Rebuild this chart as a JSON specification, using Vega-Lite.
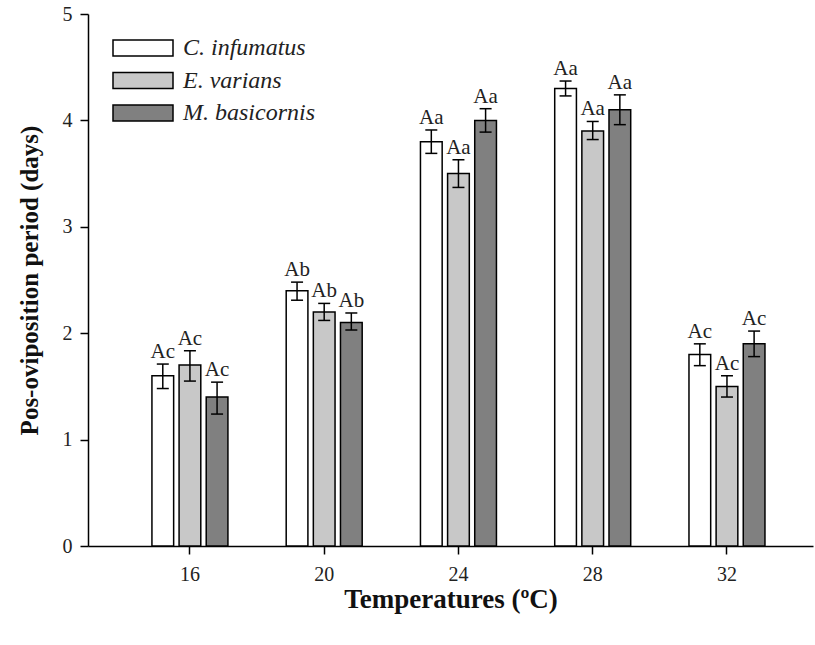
{
  "$schema": "https://vega.github.io/schema/vega-lite/v6.json",
  "width": 725,
  "height": 532,
  "autosize": {"type": "none"},
  "padding": {"left": 88, "top": 14, "right": 2, "bottom": 99},
  "background": "white",
  "config": {
    "font": "Liberation Serif",
    "view": {"stroke": null},
    "axis": {
      "domainColor": "black",
      "domainWidth": 1.5,
      "tickColor": "black",
      "tickWidth": 1.5,
      "tickSize": 8,
      "labelFont": "Liberation Serif",
      "labelFontSize": 20,
      "labelColor": "#222222",
      "titleFont": "Liberation Serif",
      "titleFontSize": 25,
      "titleFontWeight": "bold",
      "titleColor": "#111111",
      "grid": false
    }
  },
  "data": {
    "values": [
      {"temp": "16", "species": "C. infumatus", "mean": 1.6, "lo": 1.48, "hi": 1.71, "label": "Ac"},
      {"temp": "16", "species": "E. varians", "mean": 1.7, "lo": 1.55, "hi": 1.835, "label": "Ac"},
      {"temp": "16", "species": "M. basicornis", "mean": 1.4, "lo": 1.24, "hi": 1.54, "label": "Ac"},
      {"temp": "20", "species": "C. infumatus", "mean": 2.4, "lo": 2.31, "hi": 2.48, "label": "Ab"},
      {"temp": "20", "species": "E. varians", "mean": 2.2, "lo": 2.12, "hi": 2.28, "label": "Ab"},
      {"temp": "20", "species": "M. basicornis", "mean": 2.1, "lo": 2.03, "hi": 2.19, "label": "Ab"},
      {"temp": "24", "species": "C. infumatus", "mean": 3.8, "lo": 3.69, "hi": 3.91, "label": "Aa"},
      {"temp": "24", "species": "E. varians", "mean": 3.5, "lo": 3.37, "hi": 3.63, "label": "Aa"},
      {"temp": "24", "species": "M. basicornis", "mean": 4.0, "lo": 3.89, "hi": 4.11, "label": "Aa"},
      {"temp": "28", "species": "C. infumatus", "mean": 4.3, "lo": 4.23, "hi": 4.37, "label": "Aa"},
      {"temp": "28", "species": "E. varians", "mean": 3.9, "lo": 3.82, "hi": 3.99, "label": "Aa"},
      {"temp": "28", "species": "M. basicornis", "mean": 4.1, "lo": 3.96, "hi": 4.24, "label": "Aa"},
      {"temp": "32", "species": "C. infumatus", "mean": 1.8, "lo": 1.695, "hi": 1.9, "label": "Ac"},
      {"temp": "32", "species": "E. varians", "mean": 1.5, "lo": 1.4, "hi": 1.6, "label": "Ac"},
      {"temp": "32", "species": "M. basicornis", "mean": 1.9, "lo": 1.78, "hi": 2.02, "label": "Ac"}
    ]
  },
  "encoding": {
    "x": {
      "field": "temp",
      "type": "ordinal",
      "sort": ["16", "20", "24", "28", "32"],
      "scale": {"paddingInner": 0.434, "paddingOuter": 0.417, "align": 0.571},
      "axis": {"labelAngle": 0, "labelPadding": 10, "titlePadding": 2, "titleFontSize": 27},
      "title": "Temperatures (ºC)"
    },
    "xOffset": {
      "field": "species",
      "type": "nominal",
      "sort": ["C. infumatus", "E. varians", "M. basicornis"],
      "scale": {"paddingInner": 0.2, "paddingOuter": 0}
    }
  },
  "layer": [
    {
      "mark": {"type": "bar", "stroke": "black", "strokeWidth": 1.5},
      "encoding": {
        "y": {
          "field": "mean",
          "type": "quantitative",
          "scale": {"domain": [0, 5], "nice": false},
          "axis": {"values": [0, 1, 2, 3, 4, 5], "format": "d", "labelPadding": 8, "titlePadding": 20},
          "title": "Pos-oviposition period (days)"
        },
        "fill": {
          "field": "species",
          "type": "nominal",
          "scale": {
            "domain": ["C. infumatus", "E. varians", "M. basicornis"],
            "range": ["#ffffff", "#c8c8c8", "#808080"]
          },
          "legend": {
            "title": null,
            "orient": "none",
            "legendX": 39,
            "legendY": 18,
            "padding": 0,
            "symbolType": "M-2,-0.54L2,-0.54L2,0.54L-2,0.54Z",
            "symbolSize": 900,
            "symbolStrokeColor": "black",
            "symbolStrokeWidth": 1.5,
            "labelFont": "Liberation Serif",
            "labelFontStyle": "italic",
            "labelFontSize": 24,
            "labelColor": "#222222",
            "labelOffset": 24,
            "rowPadding": 4.5
          }
        }
      }
    },
    {
      "mark": {"type": "rule", "color": "black", "strokeWidth": 1.5},
      "encoding": {
        "y": {"field": "lo", "type": "quantitative"},
        "y2": {"field": "hi"}
      }
    },
    {
      "mark": {"type": "tick", "color": "black", "orient": "horizontal", "size": 12, "thickness": 1.5, "opacity": 1},
      "encoding": {"y": {"field": "lo", "type": "quantitative"}}
    },
    {
      "mark": {"type": "tick", "color": "black", "orient": "horizontal", "size": 12, "thickness": 1.5, "opacity": 1},
      "encoding": {"y": {"field": "hi", "type": "quantitative"}}
    },
    {
      "mark": {"type": "text", "baseline": "alphabetic", "dy": -6, "fontSize": 21, "font": "Liberation Serif", "color": "#222222"},
      "encoding": {
        "y": {"field": "hi", "type": "quantitative"},
        "text": {"field": "label"}
      }
    }
  ]
}
